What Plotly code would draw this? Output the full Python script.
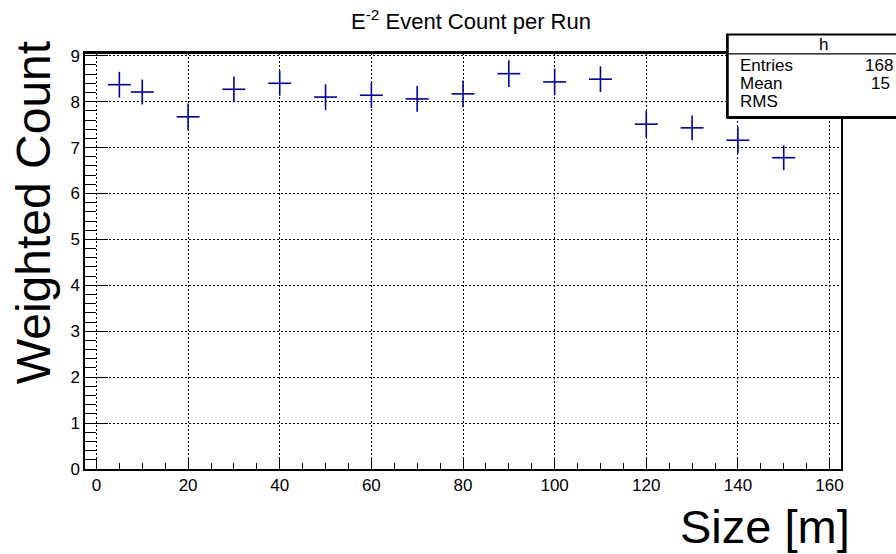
import plotly.graph_objects as go

# ---- data ----
size_m = [5, 10, 20, 30, 40, 50, 60, 70, 80, 90, 100, 110, 120, 130, 140, 150]
weighted_count = [8.37, 8.21, 7.67, 8.27, 8.40, 8.10, 8.14, 8.06, 8.17, 8.61, 8.43, 8.49, 7.51, 7.43, 7.16, 6.78]
count_err = [0.28, 0.27, 0.29, 0.28, 0.27, 0.28, 0.28, 0.28, 0.29, 0.29, 0.29, 0.28, 0.29, 0.27, 0.29, 0.27]
bin_half_width = [2.5] * len(size_m)
stats_labels = ["Entries", "Mean", "RMS"]
stats_values = ["168", "15", ""]

W, H = 896, 554
L, R, T, B = 85, 841, 52.5, 469.3
FONT = "Liberation Sans, Arial, Helvetica, sans-serif"
COL = "#000099"

def px2x(px):
    return (px - L) / (R - L)

def py2y(py):
    return (B - py) / (B - T)

fig = go.Figure()
fig.add_trace(go.Scatter(
    x=size_m, y=weighted_count, mode="markers",
    marker=dict(size=1, color=COL, opacity=0),
    error_y=dict(type="data", array=count_err, color=COL, thickness=1.6, width=0),
    error_x=dict(type="data", array=bin_half_width, color=COL, thickness=1.6, width=0),
    showlegend=False, hoverinfo="x+y",
))

axis_common = dict(
    showline=True, linecolor="black", linewidth=1.5, mirror=True,
    showgrid=True, gridcolor="black", gridwidth=1, griddash="2px,2px",
    ticks="inside", tickcolor="black", tickwidth=1,
    tickfont=dict(family=FONT, size=17, color="black"),
    zeroline=False,
)

fig.update_xaxes(
    range=[-2.5, 162.5], tickmode="linear", tick0=0, dtick=20, ticklen=12,
    minor=dict(dtick=5, tick0=0, ticklen=6, ticks="inside", tickcolor="black", showgrid=False),
    **axis_common,
)
fig.update_yaxes(
    range=[0, 9.06], tickmode="linear", tick0=0, dtick=1, ticklen=23,
    minor=dict(dtick=0.2, tick0=0, ticklen=11, ticks="inside", tickcolor="black", showgrid=False),
    **axis_common,
)

shapes = [
    dict(type="line", xref="paper", yref="paper",
         x0=0, x1=1, y0=1, y1=1,
         line=dict(color="black", width=2.2), layer="above"),
    dict(type="rect", xref="paper", yref="paper",
         x0=px2x(727), x1=px2x(905), y0=py2y(117), y1=py2y(34),
         line=dict(color="black", width=2), fillcolor="white", layer="above"),
    dict(type="line", xref="paper", yref="paper",
         x0=px2x(727), x1=px2x(905), y0=py2y(53.3), y1=py2y(53.3),
         line=dict(color="black", width=1.2), layer="above"),
    dict(type="line", xref="paper", yref="paper",
         x0=px2x(727), x1=px2x(905), y0=py2y(117), y1=py2y(117),
         line=dict(color="black", width=3), layer="above"),
    dict(type="line", xref="paper", yref="paper",
         x0=px2x(727.5), x1=px2x(727.5), y0=py2y(117), y1=py2y(34),
         line=dict(color="black", width=2.5), layer="above"),
]

annotations = [
    dict(text="h", xref="paper", yref="paper", x=px2x(823), y=py2y(44),
         xanchor="center", yanchor="middle", showarrow=False,
         font=dict(family=FONT, size=17, color="black")),
]
row_y = [65, 83, 101.5]
val_right = [895, 892, 892]
for lab, val, yy, xr in zip(stats_labels, stats_values, row_y, val_right):
    annotations.append(dict(text=lab, xref="paper", yref="paper", x=px2x(738), y=py2y(yy),
                            xanchor="left", yanchor="middle", showarrow=False,
                            font=dict(family=FONT, size=17, color="black")))
    if val:
        annotations.append(dict(text=val, xref="paper", yref="paper", x=px2x(xr), y=py2y(yy),
                                xanchor="right", yanchor="middle", showarrow=False,
                                font=dict(family=FONT, size=17, color="black")))

annotations.append(dict(text="E<sup>-2</sup> Event Count per Run", xref="paper", yref="paper",
                        x=px2x(471), y=py2y(19), xanchor="center", yanchor="middle",
                        showarrow=False, font=dict(family=FONT, size=22, color="black")))
annotations.append(dict(text="Size [m]", xref="paper", yref="paper",
                        x=px2x(852), y=py2y(527), xanchor="right", yanchor="middle",
                        showarrow=False, font=dict(family=FONT, size=47, color="black")))
annotations.append(dict(text="Weighted Count", xref="paper", yref="paper",
                        x=px2x(33), y=py2y(213), xanchor="center", yanchor="middle",
                        textangle=-90, showarrow=False,
                        font=dict(family=FONT, size=48, color="black")))

fig.update_layout(
    width=W, height=H,
    margin=dict(l=L, r=W - R, t=T, b=H - B, pad=0),
    paper_bgcolor="white", plot_bgcolor="white",
    shapes=shapes, annotations=annotations,
    font=dict(family=FONT, color="black"),
)

fig.write_html("out.html")
